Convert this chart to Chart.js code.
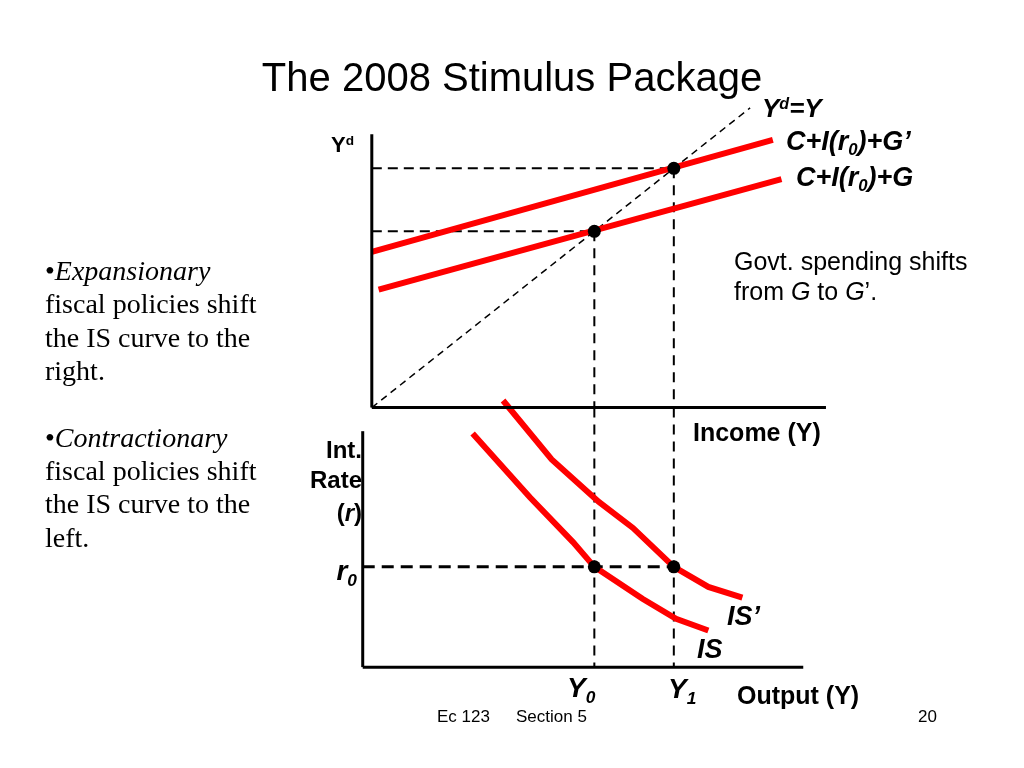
<!DOCTYPE html>
<html>
<head>
<meta charset="utf-8">
<script src="https://cdn.jsdelivr.net/npm/chart.js@4.4.0/dist/chart.umd.min.js"></script>
<style>
  html, body { margin: 0; padding: 0; background: #fff; }
  #wrap { position: relative; width: 1024px; height: 768px; overflow: hidden; }
  #c { position: absolute; left: 0; top: 0; }
  .lbl { position: absolute; line-height: 1; white-space: nowrap; color: #000; }
  .sans { font-family: "Liberation Sans", Arial, sans-serif; }
  .serif { font-family: "Liberation Serif", "Times New Roman", serif; }
  .lbl sub, .lbl sup { font-size: 62%; line-height: 0; position: relative; vertical-align: baseline; }
  .lbl sub { top: 0.32em; }
  .lbl sup { top: -0.5em; }
</style>
</head>
<body>
<div id="wrap"><canvas id="c" width="1024" height="768"></canvas></div>
<script>
// ---- data (diagram units: income Y and demand Yd share units, r in its own) ----
// top panel: Keynesian cross
var crossY = [0, 83.3];            // Yd = Y (45 degree line)
var cigY = [1.5, 90.2];            // C+I(r0)+G
var cigYd = [32.8, 63.5];
var cigpY = [0, 88.3];             // C+I(r0)+G'
var cigpYd = [43.3, 74.4];
var eqY = [49, 66.5];              // Y0, Y1
var topAxisY = [0, 100];
var topAxisYd = [0, 76];

// bottom panel: IS curves
var isY = [22.2, 34.8, 44.3, 49, 59.6, 67, 74.1];
var isR = [9.9, 7.2, 5.3, 4.25, 2.9, 2.05, 1.55];
var isPY = [28.9, 39.6, 50.0, 57.5, 66.5, 74.1, 81.6];
var isPR = [11.3, 8.8, 7.0, 5.9, 4.25, 3.4, 2.95];
var r0 = 4.25;
var botAxisY = [-2, 95];
var botAxisR = [0, 10];

// ---- layout of the scales on the 1024x768 page ----
var X0 = 370, XS = 4.6;        // px of Y=0, px per unit
var TOP0 = 408, TOPS = 3.66;   // px of Yd=0, px per unit
var BOT0 = 672, BOTS = 24;     // px of r=0, px per unit
var rAtTopAxis = (BOT0 - TOP0) / BOTS;

function pts(xs, ys) {
  return xs.map(function (x, i) { return { x: x, y: ys[i] }; });
}
function line(data, axis, color, width, dash, order) {
  return {
    data: data, yAxisID: axis, showLine: true, pointRadius: 0,
    borderColor: color, borderWidth: width, borderDash: dash || [],
    borderCapStyle: 'butt', tension: 0, order: order, clip: false
  };
}

var RED = '#ff0000';
var datasets = [];

// equilibrium dots on top
datasets.push({
  data: pts(eqY, eqY), yAxisID: 'top', showLine: false,
  pointRadius: 6.5, pointBackgroundColor: '#000', pointBorderWidth: 0, order: 0
});
datasets.push({
  data: pts(eqY, [r0, r0]), yAxisID: 'bot', showLine: false,
  pointRadius: 6.5, pointBackgroundColor: '#000', pointBorderWidth: 0, order: 0
});

// axes
datasets.push(line(pts([topAxisY[0], topAxisY[0]], topAxisYd), 'top', '#000', 3, null, 1));
datasets.push(line(pts(topAxisY, [0, 0]), 'top', '#000', 3, null, 1));
datasets.push(line(pts([botAxisY[0], botAxisY[0]], botAxisR), 'bot', '#000', 3, null, 1));
datasets.push(line(pts(botAxisY, [0, 0]), 'bot', '#000', 3, null, 1));

// red curves
datasets.push(line(pts(cigpY, cigpYd), 'top', RED, 6, null, 2));
datasets.push(line(pts(cigY, cigYd), 'top', RED, 6, null, 2));
datasets.push(line(pts(isPY, isPR), 'bot', RED, 6, null, 2));
datasets.push(line(pts(isY, isR), 'bot', RED, 6, null, 2));

// dashed guides
datasets.push(line(pts(crossY, crossY), 'top', '#000', 1.5, [7, 5], 3));
eqY.forEach(function (e) {
  datasets.push(line(pts([topAxisY[0], e], [e, e]), 'top', '#000', 2, [10, 6], 3));
  datasets.push(line(pts([e, e], [e, 0]), 'top', '#000', 2, [10, 7], 3));
  datasets.push(line(pts([e, e], [rAtTopAxis, 0]), 'bot', '#000', 2, [10, 7], 3));
});
datasets.push(line(pts([botAxisY[0], eqY[1]], [r0, r0]), 'bot', '#000', 3, [12, 7], 3));

new Chart(document.getElementById('c'), {
  type: 'scatter',
  data: { datasets: datasets },
  options: {
    responsive: false,
    animation: false,
    layout: { padding: 0 },
    plugins: { legend: { display: false }, tooltip: { enabled: false } },
    scales: {
      x: { type: 'linear', display: false, min: -X0 / XS, max: (1024 - X0) / XS },
      top: { type: 'linear', display: false, min: -(768 - TOP0) / TOPS, max: TOP0 / TOPS },
      bot: { type: 'linear', display: false, min: -(768 - BOT0) / BOTS, max: BOT0 / BOTS }
    }
  }
});

// ---- text ----
var wrap = document.getElementById('wrap');
function label(html, x, base, size, cls, align) {
  var d = document.createElement('div');
  d.className = 'lbl ' + cls;
  d.innerHTML = html;
  d.style.fontSize = size + 'px';
  d.style.top = (base - 0.85 * size) + 'px';
  if (align === 'right') d.style.right = (1024 - x) + 'px';
  else if (align === 'center') { d.style.left = x + 'px'; d.style.transform = 'translateX(-50%)'; }
  else d.style.left = x + 'px';
  wrap.appendChild(d);
}
var BI = 'font-weight:bold;font-style:italic';

label('The 2008 Stimulus Package', 512, 91, 40, 'sans', 'center');

label('&bull;<i>Expansionary</i>', 45, 281, 28, 'serif');
label('fiscal policies shift', 45, 314, 28, 'serif');
label('the IS curve to the', 45, 348, 28, 'serif');
label('right.', 45, 381, 28, 'serif');
label('&bull;<i>Contractionary</i>', 45, 448, 28, 'serif');
label('fiscal policies shift', 45, 481, 28, 'serif');
label('the IS curve to the', 45, 514, 28, 'serif');
label('left.', 45, 548, 28, 'serif');

label('<b>Y<sup>d</sup></b>', 331, 153, 22, 'sans');
label('<span style="' + BI + '">Y<sup>d</sup>=Y</span>', 762, 117, 26, 'sans');
label('<span style="' + BI + '">C+I(r<sub>0</sub>)+G&rsquo;</span>', 786, 151, 27, 'sans');
label('<span style="' + BI + '">C+I(r<sub>0</sub>)+G</span>', 796, 187, 27, 'sans');
label('Govt. spending shifts', 734, 270, 25, 'sans');
label('from <i>G</i> to <i>G</i>&rsquo;.', 734, 300, 25, 'sans');
label('<b>Income (Y)</b>', 693, 441, 25, 'sans');

label('<b>Int.</b>', 362, 458, 24, 'sans', 'right');
label('<b>Rate</b>', 362, 488, 24, 'sans', 'right');
label('<b>(<i>r</i>)</b>', 362, 521, 24, 'sans', 'right');
label('<span style="' + BI + '">r<sub>0</sub></span>', 357, 581, 28, 'sans', 'right');
label('<span style="' + BI + '">IS&rsquo;</span>', 727, 626, 27, 'sans');
label('<span style="' + BI + '">IS</span>', 697, 659, 27, 'sans');
label('<span style="' + BI + '">Y<sub>0</sub></span>', 567, 698, 28, 'sans');
label('<span style="' + BI + '">Y<sub>1</sub></span>', 668, 699, 28, 'sans');
label('<b>Output (Y)</b>', 737, 704, 25, 'sans');

label('Ec 123', 437, 722, 17, 'sans');
label('Section 5', 516, 722, 17, 'sans');
label('20', 918, 722, 17, 'sans');
</script>
</body>
</html>
